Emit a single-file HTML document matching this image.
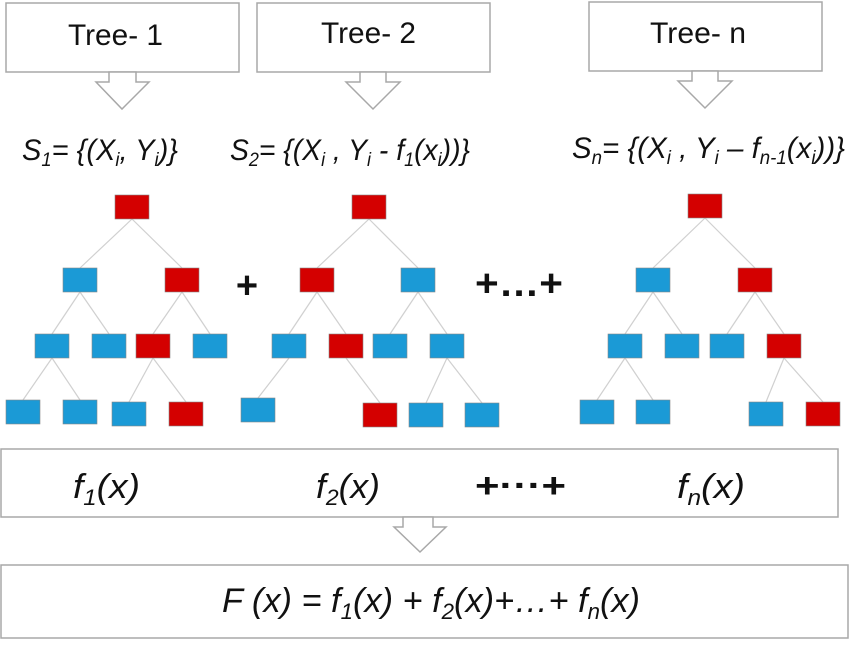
<!DOCTYPE html>
<html><head><meta charset="utf-8"><style>
html,body{margin:0;padding:0;background:#fff;}
svg{display:block;font-family:"Liberation Sans",sans-serif;}
</style></head><body>
<svg id="d" width="850" height="657" viewBox="0 0 850 657">
<g fill="#fff" stroke="#a8a8a8" stroke-width="1.5">
<rect x="6" y="3" width="233" height="69"/>
<rect x="257" y="3" width="233" height="69"/>
<rect x="589" y="2" width="233" height="69"/>
<polygon points="109,72 109,82 96,82 122,109 149,82 136,82 136,72"/>
<polygon points="360,72 360,82 346,82 373,109 400,82 386,82 386,72"/>
<polygon points="692,71 692,81 678,81 705,108 732,81 718,81 718,71"/>
<rect x="1" y="449" width="837" height="68"/>
<rect x="1" y="565" width="847" height="73"/>
<polygon points="403,517 403,527 394,527 420,552 446,527 433,527 433,517"/>
</g>
<g fill="#111" font-size="30">
<text x="68" y="45" textLength="95" lengthAdjust="spacingAndGlyphs">Tree- 1</text>
<text x="321" y="43" textLength="95" lengthAdjust="spacingAndGlyphs">Tree- 2</text>
<text x="650" y="43" textLength="96" lengthAdjust="spacingAndGlyphs">Tree- n</text>
</g>
<g fill="#111" font-size="30" font-style="italic">
<text x="22" y="160" textLength="156" lengthAdjust="spacingAndGlyphs">S<tspan font-size="19" dy="6">1</tspan><tspan dy="-6">= {(X</tspan><tspan font-size="19" dy="6">i</tspan><tspan dy="-6">, Y</tspan><tspan font-size="19" dy="6">i</tspan><tspan dy="-6">)}</tspan></text>
<text x="230" y="160" textLength="240" lengthAdjust="spacingAndGlyphs">S<tspan font-size="19" dy="6">2</tspan><tspan dy="-6">= {(X</tspan><tspan font-size="19" dy="6">i</tspan><tspan dy="-6"> , Y</tspan><tspan font-size="19" dy="6">i</tspan><tspan dy="-6"> - f</tspan><tspan font-size="19" dy="6">1</tspan><tspan dy="-6">(x</tspan><tspan font-size="19" dy="6">i</tspan><tspan dy="-6">))}</tspan></text>
<text x="572" y="158" textLength="273" lengthAdjust="spacingAndGlyphs">S<tspan font-size="19" dy="6">n</tspan><tspan dy="-6">= {(X</tspan><tspan font-size="19" dy="6">i</tspan><tspan dy="-6"> , Y</tspan><tspan font-size="19" dy="6">i</tspan><tspan dy="-6"> – f</tspan><tspan font-size="19" dy="6">n-1</tspan><tspan dy="-6">(x</tspan><tspan font-size="19" dy="6">i</tspan><tspan dy="-6">))}</tspan></text>
</g>
<g fill="#111" font-size="38" font-weight="bold">
<text x="247" y="298" text-anchor="middle">+</text>
<text x="475" y="296" textLength="88" lengthAdjust="spacingAndGlyphs">+…+</text>
</g>
<g id="trees"></g>
<g fill="#111" font-size="34" font-style="italic">
<text x="73" y="498" textLength="67" lengthAdjust="spacingAndGlyphs">f<tspan font-size="22" dy="7">1</tspan><tspan dy="-7">(x)</tspan></text>
<text x="316" y="498" textLength="64" lengthAdjust="spacingAndGlyphs">f<tspan font-size="22" dy="7">2</tspan><tspan dy="-7">(x)</tspan></text>
<text x="475" y="497" font-style="normal" font-weight="bold" textLength="91" lengthAdjust="spacingAndGlyphs">+···+</text>
<text x="677" y="498" textLength="68" lengthAdjust="spacingAndGlyphs">f<tspan font-size="22" dy="7">n</tspan><tspan dy="-7">(x)</tspan></text>
<text x="222" y="612" textLength="418" lengthAdjust="spacingAndGlyphs">F (x) = f<tspan font-size="22" dy="7">1</tspan><tspan dy="-7">(x) + f</tspan><tspan font-size="22" dy="7">2</tspan><tspan dy="-7">(x)+…+ f</tspan><tspan font-size="22" dy="7">n</tspan><tspan dy="-7">(x)</tspan></text>
</g>
</svg>
<script>
// node: [x-left, y-top, color(r/b), parentIndex]
const tree1Nodes=[[115,195,'r',-1],[63,268,'b',0],[165,268,'r',0],[35,334,'b',1],[92,334,'b',1],[136,334,'r',2],[193,334,'b',2],[6,400,'b',3],[63,400,'b',3],[112,402,'b',5],[169,402,'r',5]];
const tree2Nodes=[[352,195,'r',-1],[300,268,'r',0],[401,268,'b',0],[272,334,'b',1],[329,334,'r',1],[373,334,'b',2],[430,334,'b',2],[241,398,'b',3],[363,403,'r',4],[409,403,'b',6],[465,403,'b',6]];
const treeNNodes=[[688,194,'r',-1],[636,268,'b',0],[738,268,'r',0],[608,334,'b',1],[665,334,'b',1],[710,334,'b',2],[767,334,'r',2],[580,400,'b',3],[636,400,'b',3],[749,402,'b',6],[806,402,'r',6]];
const W=34,H=24,NS='http://www.w3.org/2000/svg';
const g=document.getElementById('trees');
[['tree-1',tree1Nodes],['tree-2',tree2Nodes],['tree-n',treeNNodes]].forEach(([name,nodes])=>{
  nodes.forEach((n,i)=>{ if(n[3]<0) return; const p=nodes[n[3]];
    const l=document.createElementNS(NS,'line');
    l.setAttribute('x1',p[0]+W/2);l.setAttribute('y1',p[1]+H);l.setAttribute('x2',n[0]+W/2);l.setAttribute('y2',n[1]);
    l.setAttribute('stroke','#d0d0d0');l.setAttribute('stroke-width','1.2');
    
    
    g.appendChild(l);});
  nodes.forEach((n,i)=>{ const r=document.createElementNS(NS,'rect');
    r.setAttribute('x',n[0]);r.setAttribute('y',n[1]);r.setAttribute('width',W);r.setAttribute('height',H);
    r.setAttribute('fill',n[2]=='r'?'#d40000':'#1b9ad6');r.setAttribute('stroke','#888');r.setAttribute('stroke-width','0.6');
    
    
    g.appendChild(r);});
});
</script>
</body></html>
